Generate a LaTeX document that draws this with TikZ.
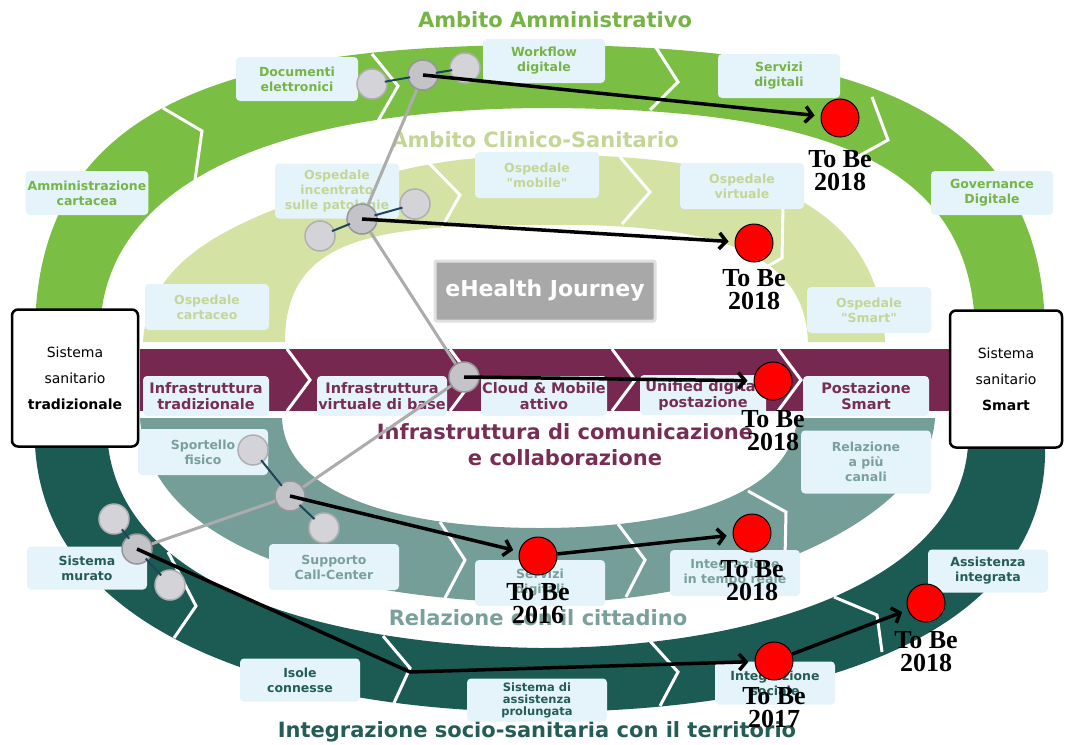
\documentclass[tikz,border=0pt]{standalone}
\usepackage{fontspec}
\setmainfont{DejaVu Sans}
\newfontfamily\boxfont{DejaVu Sans}
\newfontfamily\tobefont{Liberation Serif}
\usetikzlibrary{positioning,arrows.meta}

\definecolor{adminGreen}{RGB}{122,190,67}
\definecolor{adminText}{RGB}{118,180,70}
\definecolor{clinGreen}{RGB}{212,226,163}
\definecolor{clinText}{RGB}{196,214,150}
\definecolor{infraPurple}{RGB}{118,40,80}
\definecolor{infraText}{RGB}{120,45,85}
\definecolor{relTeal}{RGB}{118,158,153}
\definecolor{relText}{RGB}{122,160,156}
\definecolor{terrTeal}{RGB}{28,90,84}
\definecolor{terrText}{RGB}{36,92,86}
\definecolor{boxBlue}{RGB}{228,244,250}
\definecolor{nodeGrey}{RGB}{212,212,216}
\definecolor{nodeRim}{RGB}{175,175,180}
\definecolor{hubGrey}{RGB}{196,196,200}
\definecolor{hubRim}{RGB}{150,150,155}
\definecolor{pathGrey}{RGB}{172,172,172}
\definecolor{linkNavy}{RGB}{30,70,90}
\definecolor{journeyGrey}{RGB}{168,168,168}

\begin{document}
\begin{tikzpicture}[x=1pt, y=-1pt,
    chevron/.style={white, line width=3pt, line join=miter},
    title/.style={font=\bfseries\fontsize{21}{26}\selectfont, inner sep=0pt},
    stagebox/.style={rounded corners=4pt, fill=boxBlue, align=center, inner sep=2pt,
        font=\boxfont\bfseries\fontsize{12.5}{15}\selectfont},
    adminbox/.style={stagebox, text=adminText, minimum width=122pt, minimum height=44pt},
    clinbox/.style={stagebox, text=clinText, minimum width=124pt, minimum height=46pt},
    infrabox/.style={stagebox, text=infraText, minimum width=126pt, minimum height=40pt,
        font=\boxfont\bfseries\fontsize{14.5}{16}\selectfont, inner sep=1pt},
    relbox/.style={stagebox, text=relText, minimum width=130pt, minimum height=46pt},
    terrbox/.style={stagebox, text=terrText, minimum width=120pt, minimum height=43pt},
    sidebox/.style={rounded corners=6pt, fill=white, draw=black, line width=2.5pt, align=center,
        minimum height=137pt, font=\fontsize{14}{26}\selectfont},
    stage/.style={circle, fill=nodeGrey, draw=nodeRim, line width=1.5pt, minimum size=30pt, inner sep=0pt},
    hub/.style={stage, fill=hubGrey, draw=hubRim},
    tobe/.style={circle, fill=red, draw=black, line width=1pt, minimum size=38pt, inner sep=0pt},
    tobelabel/.style={font=\tobefont\bfseries\fontsize{26}{23}\selectfont, align=center, inner sep=0pt},
    journey/.style={line width=3.5pt, -{Straight Barb[length=7pt, width=16pt]}, shorten >=6pt},
  ]
    % Canvas
    \useasboundingbox (0,0) rectangle (1073,744);
    \fill[white] (0,0) rectangle (1073,744);

    % Ambito Amministrativo (outer green band)
    \fill[adminGreen] (35,335) .. controls (35,110) and (220,45) .. (540,45)
        .. controls (860,45) and (1045,110) .. (1045,335)
        -- (975,335) .. controls (975,160) and (820,108) .. (540,108)
        .. controls (260,110) and (100,190) .. (100,335) -- cycle;
    \draw[chevron] (163,108) -- (202,131) -- (195,180);
    \draw[chevron] (372,54) -- (398,86) -- (378,121);
    \draw[chevron] (655,46) -- (678,82) -- (650,110);
    \draw[chevron] (872,97) -- (888,140) -- (857,157);

    % Ambito Clinico-Sanitario (light green band)
    \fill[clinGreen] (143,342) .. controls (148,260) and (230,222) .. (330,190)
        .. controls (400,168) and (450,157) .. (530,155)
        .. controls (750,152) and (880,200) .. (885,342)
        -- (808,342) .. controls (805,245) and (700,222) .. (530,225)
        .. controls (370,225) and (285,240) .. (285,342) -- cycle;
    \draw[chevron] (425,159) -- (460,195) -- (442,227);
    \draw[chevron] (620,157) -- (650,192) -- (622,224);
    \draw[chevron] (783,205) -- (782,258) -- (765,268);

    % Infrastruttura (purple band)
    \fill[infraPurple] (140,349) rectangle (952,411);
    \foreach \x in {287,450,612,778}
        \draw[chevron] (\x,349) -- (\x+23,380) -- (\x,411);

    % Relazione con il cittadino (grey-teal band)
    \fill[relTeal] (140,418) .. controls (148,545) and (330,600) .. (540,603)
        .. controls (735,604) and (930,520) .. (935,418)
        -- (797,418) .. controls (792,495) and (680,528) .. (540,528)
        .. controls (400,528) and (285,495) .. (282,418) -- cycle;
    \draw[chevron] (440,522) -- (465,560) -- (445,598);
    \draw[chevron] (618,524) -- (645,560) -- (626,597);
    \draw[chevron] (748,491) -- (786,512) -- (785,558);

    % Integrazione socio-sanitaria (dark teal band)
    \fill[terrTeal] (35,445) .. controls (45,640) and (300,712) .. (540,712)
        .. controls (800,712) and (1050,640) .. (1045,445)
        -- (968,445) .. controls (960,580) and (760,648) .. (540,648)
        .. controls (330,645) and (125,590) .. (108,445) -- cycle;
    \draw[chevron] (168,552) -- (196,606) -- (174,638);
    \draw[chevron] (383,636) -- (410,668) -- (394,703);
    \draw[chevron] (650,641) -- (678,672) -- (660,706);
    \draw[chevron] (834,597) -- (877,615) -- (882,652);

    % Band titles
    \node[title, text=adminText] (tadmin) at (555,20) {Ambito Amministrativo};
    \node[title, text=clinText] (tclin) at (535,140) {Ambito Clinico-Sanitario};
    \node[title, text=infraText, align=center] (tinfra) at (565,445)
        {Infrastruttura di comunicazione\\e collaborazione};
    \node[title, text=relText] (trel) at (538,618) {Relazione con il cittadino};
    \node[title, text=terrText] (tterr) at (537,732) {Integrazione socio-sanitaria con il territorio};

    % Stages: amministrativo
    \node[adminbox] (amm) at (87,193) {Amministrazione\\cartacea};
    \node[adminbox] (doc) at (297,79) {Documenti\\elettronici};
    \node[adminbox] (wf) at (544,61) {Workflow\\digitale};
    \node[adminbox] (serv) at (779,76) {Servizi\\digitali};
    \node[adminbox] (gov) at (992,193) {Governance\\Digitale};

    % Stages: clinico-sanitario
    \node[clinbox] (ocart) at (207,307) {Ospedale\\cartaceo};
    \node[clinbox, minimum height=55pt] (oinc) at (337,191) {Ospedale\\incentrato\\sulle patologie};
    \node[clinbox] (omob) at (537,175) {Ospedale\\"mobile"};
    \node[clinbox] (ovirt) at (742,186) {Ospedale\\virtuale};
    \node[clinbox] (osmart) at (869,310) {Ospedale\\"Smart"};

    % Stages: infrastruttura
    \node[infrabox] (itrad) at (206,396) {Infrastruttura\\tradizionale};
    \node[infrabox, minimum width=130pt] (ivirt) at (382,396) {Infrastruttura\\virtuale di base};
    \node[infrabox] (cloud) at (544,396) {Cloud \& Mobile\\attivo};
    \node[infrabox] (udp) at (703,395) {Unified digital\\postazione};
    \node[infrabox] (psmart) at (866,396) {Postazione\\Smart};

    % Stages: relazione
    \node[relbox] (sport) at (203,452) {Sportello\\fisico};
    \node[relbox] (call) at (334,567) {Supporto\\Call-Center};
    \node[relbox] (sdig) at (540,583) {Servizi\\digitali};
    \node[relbox] (itr) at (735,573) {Integrazione\\in tempo reale};
    \node[relbox, minimum height=63pt] (rpc) at (866,462) {Relazione\\a più\\canali};

    % Stages: integrazione
    \node[terrbox] (smur) at (87,568) {Sistema\\murato};
    \node[terrbox] (isole) at (300,680) {Isole\\connesse};
    \node[terrbox, minimum width=140pt, font=\boxfont\bfseries\fontsize{11.5}{12}\selectfont] (sap) at (537,700)
        {Sistema di\\assistenza\\prolungata};
    \node[terrbox] (isoc) at (775,683) {Integrazione\\sociale};
    \node[terrbox] (aint) at (988,571) {Assistenza\\integrata};

    % Centre label
    \node[fill=journeyGrey, draw=black!12, line width=3pt, text=white, rounded corners=2pt,
        minimum width=220pt, minimum height=60pt, font=\bfseries\fontsize{22}{26}\selectfont]
        (journey) at (545,291) {eHealth Journey};

    % Start and end systems
    \node[sidebox, minimum width=126pt] (trad) at (75,378)
        {Sistema\\sanitario\\\textbf{tradizionale}};
    \node[sidebox, minimum width=112pt] (smart) at (1006,379)
        {Sistema\\sanitario\\\textbf{Smart}};

    % As-is positions
    \node[stage] (pa1) at (372,84) {};
    \node[stage] (pa2) at (465,68) {};
    \node[hub] (pa) at (423,75) {};
    \node[stage] (pb1) at (320,236) {};
    \node[stage] (pb2) at (415,204) {};
    \node[hub] (pb) at (362,219) {};
    \node[hub] (pc) at (464,377) {};
    \node[stage] (pd1) at (253,450) {};
    \node[stage] (pd2) at (324,528) {};
    \node[hub] (pd) at (290,496) {};
    \node[stage] (pe1) at (114,519) {};
    \node[stage] (pe2) at (170,585) {};
    \node[hub] (pe) at (137,549) {};

    % Links between the as-is positions
    \draw[linkNavy, line width=2pt, shorten <=13pt, shorten >=13pt] (pa1.center) -- (pa.center);
    \draw[linkNavy, line width=2pt, shorten <=13pt, shorten >=13pt] (pa.center) -- (pa2.center);
    \draw[linkNavy, line width=2pt, shorten <=13pt, shorten >=13pt] (pb1.center) -- (pb.center);
    \draw[linkNavy, line width=2pt, shorten <=13pt, shorten >=13pt] (pb.center) -- (pb2.center);
    \draw[linkNavy, line width=2pt, shorten <=13pt, shorten >=13pt] (pd1.center) -- (pd.center);
    \draw[linkNavy, line width=2pt, shorten <=13pt, shorten >=13pt] (pd.center) -- (pd2.center);
    \draw[linkNavy, line width=2pt, shorten <=13pt, shorten >=13pt] (pe1.center) -- (pe.center);
    \draw[linkNavy, line width=2pt, shorten <=13pt, shorten >=13pt] (pe.center) -- (pe2.center);
    \draw[pathGrey, line width=3pt, line join=round]
        (pa) -- (pb) -- (pc) -- (pd) -- (pe);

    % To be positions
    \node[tobe] (r1) at (840,118) {};
    \node[tobe] (r2) at (754,243) {};
    \node[tobe] (r3) at (773,381) {};
    \node[tobe] (r4) at (538,556) {};
    \node[tobe] (r5) at (752,533) {};
    \node[tobe] (r6) at (926,603) {};
    \node[tobe] (r7) at (774,661) {};
    \coordinate (bendlow) at (410,672);

    % Journeys
    \draw[journey] (pa.center) -- (r1);
    \draw[journey] (pb.center) -- (r2);
    \draw[journey] (pc.center) -- (r3);
    \draw[journey] (pd.center) -- (r4);
    \draw[journey] (r4) -- (r5);
    \draw[journey, line join=round] (pe.center) -- (bendlow) -- (r7);
    \draw[journey] (r7) -- (r6);

    % Target years
    \node[tobelabel, below=13pt of r1] (y1) {To Be\\2018};
    \node[tobelabel, below=7pt of r2] (y2) {To Be\\2018};
    \node[tobelabel, below=10pt of r3] (y3) {To Be\\2018};
    \node[tobelabel, below=8pt of r4] (y4) {To Be\\2016};
    \node[tobelabel, below=8pt of r5] (y5) {To Be\\2018};
    \node[tobelabel, below=9pt of r6] (y6) {To Be\\2018};
    \node[tobelabel, below=7pt of r7] (y7) {To Be\\2017};
\end{tikzpicture}
\end{document}
